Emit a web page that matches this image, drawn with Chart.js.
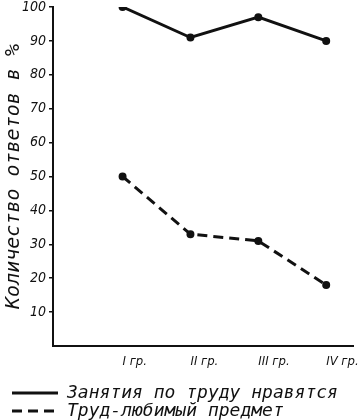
<!DOCTYPE html>
<html>
<head>
<meta charset="utf-8">
<script src="https://cdn.jsdelivr.net/npm/chart.js@4"></script>
<style>
html,body{margin:0;padding:0;background:#fff;}
#wrap{width:360px;height:420px;position:relative;}
</style>
</head>
<body>
<div id="wrap"><canvas id="c"></canvas></div>
<script>
const categories = ['I гр.', 'II гр.', 'III гр.', 'IV гр.'];
const likeLabour = [100, 91, 97, 90];
const favouriteSubject = [50, 33, 31, 18];
const seriesNames = ['Занятия по труду нравятся', 'Труд-любимый предмет'];
const yTicks = [10, 20, 30, 40, 50, 60, 70, 80, 90, 100];
const yTitle = 'Количество ответов в %';

const COND = "'DejaVu Sans Condensed', 'DejaVu Sans', sans-serif";
const MONO = "'DejaVu Sans Mono', monospace";
const INK = '#111';
const toPts = arr => arr.map((v, i) => ({x: i + 1, y: v}));

const legendIndent = {
  id: 'legendIndent',
  afterLayout(chart) { if (chart.legend) { chart.legend.left += 12; } }
};

new Chart(document.getElementById('c'), {
  type: 'line',
  plugins: [legendIndent],
  data: {
    datasets: [
      {label: seriesNames[0], data: toPts(likeLabour), borderColor: INK, backgroundColor: INK,
       borderWidth: 3, borderDash: [], pointRadius: 2.5, pointBackgroundColor: INK, tension: 0},
      {label: seriesNames[1], data: toPts(favouriteSubject), borderColor: INK, backgroundColor: INK,
       borderWidth: 3, borderDash: [10, 6], pointRadius: 2.5, pointBackgroundColor: INK, tension: 0}
    ]
  },
  options: {
    responsive: true,
    maintainAspectRatio: false,
    animation: false,
    layout: {padding: {top: 6, right: 5, left: 0, bottom: 0}},
    plugins: {
      tooltip: {enabled: false},
      legend: {
        position: 'bottom',
        align: 'start',
        maxHeight: 36,
        labels: {
          usePointStyle: true, pointStyle: 'line', pointStyleWidth: 46,
          padding: 0, color: INK,
          font: {family: MONO, size: 18, style: 'italic'},
          generateLabels: chart => Chart.defaults.plugins.legend.labels.generateLabels(chart).map(item => {
            const ds = chart.data.datasets[item.datasetIndex];
            return Object.assign(item, {lineDash: ds.borderDash, lineWidth: ds.borderWidth, strokeStyle: ds.borderColor});
          })
        }
      }
    },
    scales: {
      x: {
        type: 'linear', min: -0.025, max: 4.395,
        afterBuildTicks: s => { s.ticks = categories.map((_, i) => ({value: i + 1})); },
        afterFit: s => { s.height = 38; s.paddingRight = 0; },
        grid: {display: false, drawTicks: false},
        border: {color: INK, width: 2},
        ticks: {
          autoSkip: false, align: 'start', padding: 8, color: INK, maxRotation: 0,
          font: {family: COND, size: 13, style: 'italic'},
          callback: v => categories[v - 1] || ''
        }
      },
      y: {
        min: 0, max: 100,
        afterBuildTicks: s => { s.ticks = yTicks.map(v => ({value: v})); },
        afterFit: s => { s.width = 53; s.paddingTop = 0; },
        grid: {drawOnChartArea: false, drawTicks: true, tickLength: 4, color: INK, lineWidth: 1.5},
        border: {color: INK, width: 2},
        ticks: {
          padding: 3, color: INK,
          font: {family: COND, size: 14, style: 'italic'}
        },
        title: {
          display: true, text: yTitle, color: INK, padding: {top: 4, bottom: 0},
          font: {family: MONO, size: 20, style: 'italic', lineHeight: 1}
        }
      }
    }
  }
});
</script>
</body>
</html>
